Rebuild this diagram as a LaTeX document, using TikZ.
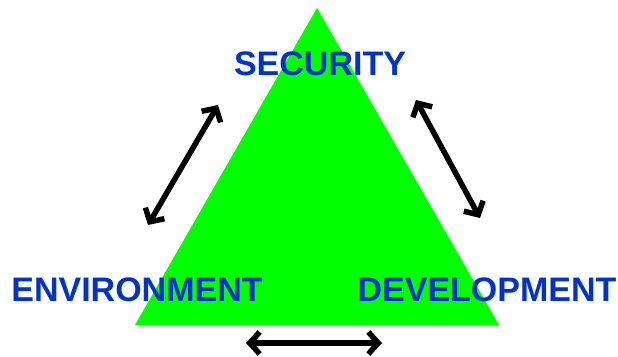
\documentclass[tikz,border=0pt]{standalone}
\usepackage{fontspec}
\setmainfont{Liberation Sans}
\usetikzlibrary{arrows.meta}

\definecolor{trigreen}{RGB}{0,255,0}
\definecolor{labelblue}{RGB}{0,51,204}

\begin{document}
\begin{tikzpicture}[x=1pt,y=-1pt,
    label/.style={text=labelblue,font=\fontsize{34}{34}\selectfont\bfseries,inner sep=0pt,anchor=base},
    both/.style={{Straight Barb[length=10pt,width=22pt]}-{Straight Barb[length=10pt,width=22pt]},line width=5.5pt,line cap=round,line join=round}]

\useasboundingbox (0,0) rectangle (618,356);

\coordinate (top) at (317,8);
\coordinate (left) at (135,325);
\coordinate (right) at (499,325);
\fill[trigreen] (top) -- (left) -- (right) -- cycle;

\node[label] (S) at (320,75) {SECURITY};
\node[label] (E) at (137,301) {ENVIRONMENT};
\node[label] (D) at (487,301) {DEVELOPMENT};

\coordinate (a1) at (148,225);
\coordinate (a2) at (218,105);
\coordinate (b1) at (416,100);
\coordinate (b2) at (480,218);
\coordinate (c1) at (246,343);
\coordinate (c2) at (382,343);

\path[both] (a1) edge (a2)
    (b1) edge (b2)
    (c1) edge (c2);
\end{tikzpicture}
\end{document}
